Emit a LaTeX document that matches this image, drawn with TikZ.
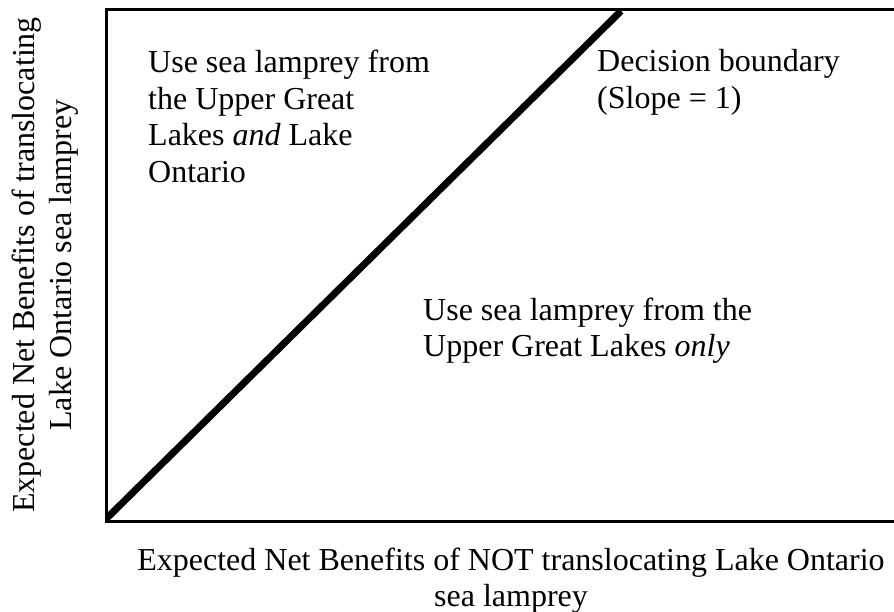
\documentclass[tikz,border=0pt]{standalone}
\usepackage{fontspec}
\setmainfont{Liberation Serif}
\usetikzlibrary{calc}
\begin{document}
\begin{tikzpicture}[x=1pt,y=-1pt,
  lbl/.style={font=\fontsize{32}{36.5}\selectfont, inner sep=0pt, align=left},
  cbl/.style={font=\fontsize{32}{36.5}\selectfont, inner sep=0pt, align=center},
  frame/.style={line width=3pt, line join=miter},
  boundary/.style={line width=7pt}]
\useasboundingbox (0,0) rectangle (894,612);
\coordinate (tr) at (894,10);
\coordinate (tl) at (106,10);
\coordinate (bl) at (106,521);
\coordinate (br) at (894,521);
\coordinate (o) at (106,519);
\coordinate (d) at (621,11);
\draw[frame] (tr) -- (tl) -- (bl) -- (br);
\begin{scope}
\clip (106,10) rectangle (894,521);
\draw[boundary] ($(o)!-0.02!(d)$) -- (d);
\end{scope}
\node[lbl, anchor=base west] (ul) at (148,182.5) {Use sea lamprey from\\the Upper Great\\Lakes \textit{and} Lake\\Ontario};
\node[lbl, anchor=base west] (db) at (597,108.5) {Decision boundary\\(Slope = 1)};
\node[lbl, anchor=base west] (lr) at (423,356.5) {Use sea lamprey from the\\Upper Great Lakes \textit{only}};
\node[cbl, anchor=base] (xl) at (511,606.5) {Expected Net Benefits of NOT translocating Lake Ontario\\sea lamprey};
\node[cbl, rotate=90] (yl) at (45,265) {Expected Net Benefits of translocating\\Lake Ontario sea lamprey};
\end{tikzpicture}
\end{document}
